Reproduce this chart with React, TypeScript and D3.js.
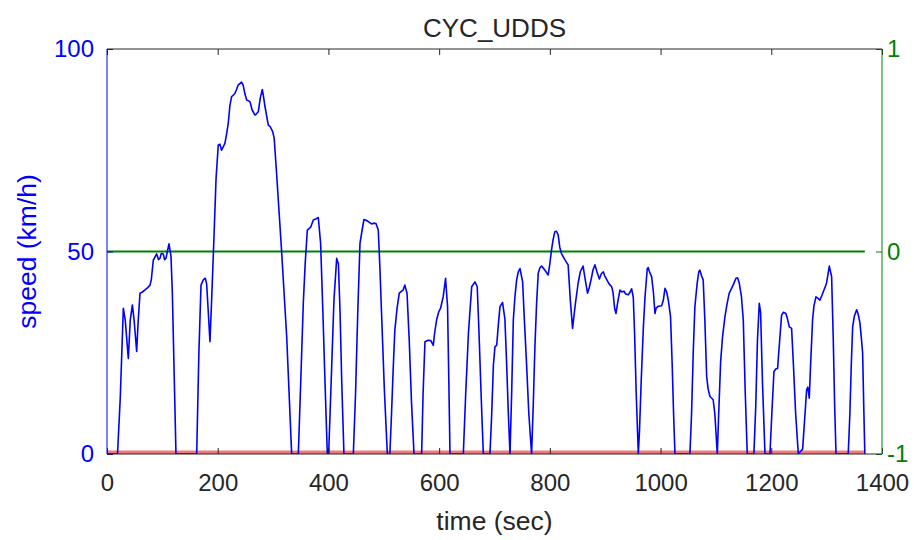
import React, { useEffect, useRef } from 'react';
import * as d3 from 'd3';

// figure size and plot box (MATLAB-style yyaxis plot)
const width = 914;
const height = 540;
const margin = { top: 49, right: 32, bottom: 86, left: 107 };

// UDDS drive cycle (time in s, speed in km/h)
const timeSec = [
  0, 19, 24, 29.5, 33, 38.5, 42, 45.8, 49, 53.6, 56, 59.6, 64, 68.6, 73, 77.7, 80, 83.7, 89.7, 93,
  95.7, 98, 101.7, 104, 106.5, 109, 112, 115.6, 118, 124.6, 162, 166, 169.8, 174, 177.6, 180, 183, 186, 189, 193.3,
  197, 201, 204, 207, 213, 216, 219, 222, 225, 231, 234, 237, 243, 246, 249, 252.3, 258.3, 262, 267.3, 270,
  273.3, 277, 280.6, 283, 285.4, 291.4, 295, 299.3, 302, 306, 315, 324.6, 333.6, 345.6, 350, 354.6, 358, 361.9, 367.9, 372.7,
  377, 381.7, 385.9, 390, 394, 398, 400.4, 405, 410, 414.9, 418, 421, 424, 428, 445, 449, 453, 457, 460.5, 464.2,
  468, 472, 478, 482, 485.9, 490, 493, 496.2, 501, 506.4, 511, 514, 517, 520, 524, 528, 535, 538, 542, 546,
  550, 554.6, 568.4, 571, 574.4, 580.4, 585, 589.4, 592, 595.4, 599, 602.6, 607.4, 611.6, 615.2, 617.5, 619.6, 643.7, 648, 653,
  658.8, 664.7, 668.8, 672, 676, 679.8, 691.8, 695, 698, 700.9, 703.9, 707, 709.9, 714.6, 718.8, 722, 725, 728, 731, 734,
  737, 740, 743, 746, 750.8, 754, 758, 762, 767, 770, 773, 776, 779, 782, 785, 791, 797, 800, 803, 806,
  809, 812, 815, 818, 821, 827, 833, 837, 841, 846, 851, 855, 860, 864, 868, 871, 875, 878, 881.5, 885,
  889.5, 893, 896.6, 899, 902.6, 907, 911.6, 914, 917, 919.5, 922, 926.7, 930, 933.9, 937, 941.7, 945, 947.7, 950.7, 953,
  956, 959.8, 962, 965, 968.8, 972, 976, 977.8, 980, 983.8, 987, 989.9, 992, 995.9, 1001.9, 1005, 1008, 1011, 1014, 1018,
  1021, 1023.5, 1026, 1053, 1056, 1059, 1062, 1066, 1069, 1071, 1074, 1077, 1080, 1083.3, 1086, 1089.2, 1095, 1098, 1102.5, 1105,
  1108.5, 1112, 1116.3, 1120, 1124, 1128.3, 1132, 1136.2, 1139, 1142, 1146, 1149.4, 1153, 1156.6, 1168.6, 1172, 1175, 1178.3, 1180.7, 1184,
  1188.6, 1197.6, 1201, 1204.8, 1208, 1211.4, 1214, 1218.6, 1222, 1226.4, 1229, 1232.5, 1236.7, 1240, 1244, 1248.8, 1252, 1256.6, 1260, 1263.8,
  1266, 1268.6, 1271, 1274.6, 1277, 1280.7, 1284, 1287.8, 1291, 1295.2, 1298, 1300, 1302, 1304.8, 1307, 1309, 1312, 1314.5, 1316.9, 1339,
  1342, 1344.5, 1347, 1350, 1354.2, 1357, 1360.2, 1362.5, 1365, 1367, 1369
];
const speedKmh = [
  0, 0, 14, 36, 33, 23.6, 33, 36.8, 33, 25.3, 32, 39.7, 40, 40.5, 41, 41.7, 43, 47.9, 49.4, 48,
  48.3, 49.5, 49.4, 48, 48.3, 50, 51.9, 48.8, 40, 0, 0, 25, 41.7, 43, 43.4, 42, 35, 27.7, 38, 53.7,
  68, 76.3, 76.5, 75, 76.7, 79, 81.6, 86, 88.2, 89, 90, 91.1, 91.8, 91.1, 89, 87.4, 87, 85, 83.7, 84,
  84.5, 88, 90, 88, 85.8, 81.2, 80.8, 79.6, 78, 70, 51, 29, 0, 0, 18, 37.2, 47, 55.3, 56, 57.8,
  58, 58.4, 52, 35, 17, 0, 0, 18, 38, 48.3, 47, 35, 18, 0, 0, 15, 35, 52, 55, 57.9,
  57.7, 57.4, 56.8, 57, 56.9, 55.3, 46, 33.9, 16, 0, 0, 10, 21, 30.6, 36, 39.7, 40.5, 41.7, 39.7, 28,
  13, 0, 0, 15, 27.7, 28.1, 28, 26.8, 30, 33.1, 35, 36, 38.9, 43.4, 36.4, 18, 0, 0, 15, 30,
  41.3, 42.5, 41.3, 30, 14, 0, 0, 10, 22, 26.5, 26.8, 32, 36.4, 37.4, 33.3, 22, 10, 0, 15, 33.1,
  39, 43, 45, 45.8, 42.5, 33, 22, 10, 0, 12, 26.5, 37, 44.6, 46, 46.4, 45.4, 44.2, 47, 50.4, 53,
  54.9, 55, 54.1, 51, 49.5, 48, 46.7, 38, 31, 37, 42.1, 45, 46.4, 43, 39.7, 41, 43.4, 45.5, 46.7, 45,
  43.2, 44.5, 45, 44, 43.1, 42, 41.3, 40, 36, 34.7, 37, 40.5, 40, 40.2, 39.5, 39.3, 40, 40.8, 38.7, 30,
  15, 0, 6, 18, 31, 39, 45.8, 46, 45, 43.8, 40, 34.7, 36, 36.5, 36.6, 38, 40.9, 40, 38, 33.9,
  22, 10, 0, 0, 10, 25, 36.4, 42, 45, 45.4, 44, 43, 33, 19.1, 16, 14.2, 13.4, 10, 0, 10,
  22.8, 29, 33.9, 37, 39.7, 40.9, 42, 43.4, 43.5, 42.3, 39, 33.1, 15, 0, 0, 12, 28, 37.2, 35, 18,
  0, 0, 10, 20.3, 21, 21.1, 26, 34.3, 35, 34.7, 33.5, 31.4, 31, 22, 10, 0, 0.5, 1.2, 8, 15.8,
  16.5, 13.8, 22, 33.1, 36.5, 38.8, 38.5, 38, 39, 40.5, 41.5, 42.3, 44, 46.4, 45, 43.8, 28, 12, 0, 0,
  10, 22, 31.4, 34, 35.6, 34.5, 32.3, 29, 25, 12, 0
];

const xTicks = [0, 200, 400, 600, 800, 1000, 1200, 1400];
const leftTicks = [0, 50, 100];
const rightTicks = [-1, 0, 1];
const cycleSpan = [0, 1369];

const blue = '#0000ff';
const green = '#008000';
const grey = '#262626';
const font = '"Liberation Sans", Arial, Helvetica, sans-serif';

const SpeedChart = () => {
  const svgRef = useRef<SVGSVGElement>(null);

  useEffect(() => {
    const svg = d3.select(svgRef.current);
    svg.selectAll('*').remove();

    const innerW = width - margin.left - margin.right;
    const innerH = height - margin.top - margin.bottom;

    const x = d3.scaleLinear().domain([0, 1400]).range([0, innerW]);
    const yLeft = d3.scaleLinear().domain([0, 100]).range([innerH, 0]);
    const yRight = d3.scaleLinear().domain([-1, 1]).range([innerH, 0]);

    svg.append('defs').append('clipPath').attr('id', 'plot-clip')
      .append('rect').attr('width', innerW).attr('height', innerH);

    const g = svg.append('g').attr('transform', `translate(${margin.left},${margin.top})`);
    const plot = g.append('g').attr('clip-path', 'url(#plot-clip)');

    // red base line at zero speed (half of it hidden by the clip)
    plot.append('path')
      .datum(cycleSpan)
      .attr('d', d3.line<number>().x((d) => x(d)).y(() => yLeft(0)))
      .attr('fill', 'none')
      .attr('stroke', '#f47a7a')
      .attr('stroke-width', 7);

    // green zero line on the right axis
    plot.append('path')
      .datum(cycleSpan)
      .attr('d', d3.line<number>().x((d) => x(d)).y(() => yRight(0)))
      .attr('fill', 'none')
      .attr('stroke', green)
      .attr('stroke-width', 1.8);

    // speed trace
    const pts = timeSec.map((t, i) => [t, speedKmh[i]] as [number, number]);
    plot.append('path')
      .datum(pts)
      .attr('d', d3.line<[number, number]>().x((d) => x(d[0])).y((d) => yLeft(d[1])))
      .attr('fill', 'none')
      .attr('stroke', blue)
      .attr('stroke-width', 1.6)
      .attr('stroke-linejoin', 'round');

    // axes: ticks point inward like MATLAB
    const styleAxis = (sel, color) => {
      sel.select('.domain').remove();
      sel.selectAll('line').attr('stroke', color);
      sel.selectAll('text').attr('fill', color).style('font-family', font).style('font-size', '24px');
    };
    const plain = (d) => String(d);

    g.append('g')
      .attr('transform', `translate(0,${innerH})`)
      .call(d3.axisBottom(x).tickValues(xTicks).tickSizeInner(-6).tickSizeOuter(0).tickPadding(20).tickFormat(plain))
      .call((sel) => styleAxis(sel, grey));

    g.append('g')
      .call(d3.axisTop(x).tickValues(xTicks).tickSizeInner(-6).tickSizeOuter(0).tickFormat(() => ''))
      .call((sel) => styleAxis(sel, grey));

    g.append('g')
      .call(d3.axisLeft(yLeft).tickValues(leftTicks).tickSizeInner(-6).tickSizeOuter(0).tickPadding(13).tickFormat(plain))
      .call((sel) => styleAxis(sel, blue));

    g.append('g')
      .attr('transform', `translate(${innerW},0)`)
      .call(d3.axisRight(yRight).tickValues(rightTicks).tickSizeInner(-6).tickSizeOuter(0).tickPadding(5).tickFormat(plain))
      .call((sel) => styleAxis(sel, green));

    // box edges
    g.append('line').attr('x1', 0).attr('x2', innerW).attr('y1', innerH).attr('y2', innerH).attr('stroke', grey);
    g.append('line').attr('x1', 0).attr('x2', innerW).attr('y1', 0).attr('y2', 0).attr('stroke', grey);
    g.append('line').attr('x1', 0).attr('x2', 0).attr('y1', 0).attr('y2', innerH).attr('stroke', blue);
    g.append('line').attr('x1', innerW).attr('x2', innerW).attr('y1', 0).attr('y2', innerH).attr('stroke', green);

    // labels and title
    svg.append('text')
      .attr('x', margin.left + innerW / 2).attr('y', 36.5)
      .attr('text-anchor', 'middle').attr('fill', grey)
      .style('font-family', font).style('font-size', '26px')
      .text('CYC_UDDS');

    svg.append('text')
      .attr('x', margin.left + innerW / 2).attr('y', 530)
      .attr('text-anchor', 'middle').attr('fill', grey)
      .style('font-family', font).style('font-size', '26.5px')
      .text('time (sec)');

    svg.append('text')
      .attr('transform', `translate(36,${margin.top + innerH / 2}) rotate(-90)`)
      .attr('text-anchor', 'middle').attr('fill', blue)
      .style('font-family', font).style('font-size', '26.5px')
      .text('speed (km/h)');
  }, []);

  return <svg ref={svgRef} width={width} height={height} style={{ display: 'block', background: '#fff' }} />;
};

const App = () => (
  <div style={{ position: 'absolute', left: 0, top: 0 }}>
    <SpeedChart />
  </div>
);

export default App;
